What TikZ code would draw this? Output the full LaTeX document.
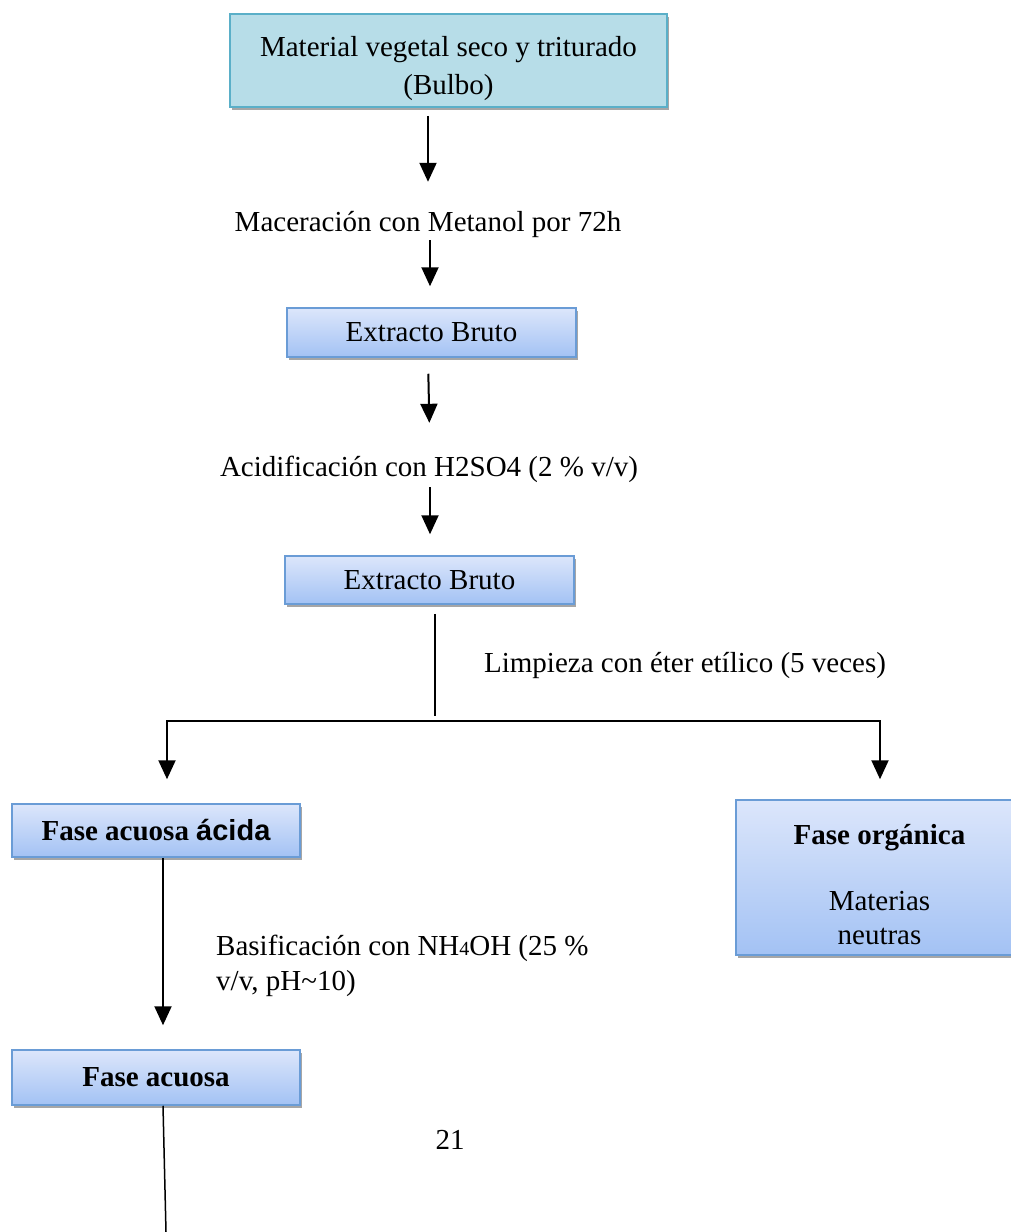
\documentclass[tikz,border=0pt]{standalone}
\usepackage{fontspec}
\setmainfont{Liberation Serif}
\newfontfamily\arialfont{Liberation Sans}
\usetikzlibrary{arrows.meta,shadows,calc}
\definecolor{cyanfill}{HTML}{B7DDE8}
\definecolor{cyanline}{HTML}{5AAFC8}
\definecolor{bluetop}{HTML}{DCE6FB}
\definecolor{bluebot}{HTML}{A3C2F4}
\definecolor{blueline}{HTML}{6A9CD6}
\tikzset{
  x=1pt, y=-1pt,
  big/.style={font=\fontsize{29}{38}\selectfont},
  shad/.style={drop shadow={shadow xshift=2pt,shadow yshift=-3pt,fill=black,opacity=0.35}},
  cyanbox/.style={big, draw=cyanline, line width=1.5pt, fill=cyanfill, shad, align=center, inner sep=0pt},
  bluebox/.style={big, draw=blueline, line width=1.5pt, top color=bluetop, bottom color=bluebot, shad, align=center, inner sep=0pt},
  lbl/.style={big, inner sep=0pt, text height=21pt, text depth=7pt},
  conn/.style={line width=2pt},
  arr/.style={conn, -{Triangle[width=17pt,length=19pt]}},
}
\begin{document}
\begin{tikzpicture}
\useasboundingbox (0,0) rectangle (1010,1232);
% boxes
\node[cyanbox, minimum width=437pt, minimum height=93pt] (top) at (448.5,60.5)
  {\rule{0pt}{36pt}Material vegetal seco y triturado\\(Bulbo)};
\node[lbl] (t1) at (428,224) {Maceración con Metanol por 72h};
\node[bluebox, minimum width=289pt, minimum height=49pt] (b1) at (431.5,332.5) {Extracto Bruto};
\node[lbl] (t2) at (429,469) {Acidificación con H2SO4 (2 \% v/v)};
\node[bluebox, minimum width=289pt, minimum height=48pt] (b2) at (429.5,580) {Extracto Bruto};
\node[lbl] (t3) at (685,665) {Limpieza con éter etílico (5 veces)};
\node[bluebox, minimum width=288pt, minimum height=53pt] (left) at (156,830.5)
  {\bfseries Fase acuosa {\arialfont\bfseries ácida}};
\node[bluebox, minimum width=287pt, minimum height=155pt, font=\fontsize{29}{34}\selectfont] (right) at (879.5,877.5)
  {\rule{0pt}{34pt}\textbf{Fase orgánica}\\[32pt]Materias\\neutras};
\node[big, inner sep=0pt, anchor=west, align=left, font=\fontsize{29}{35}\selectfont] (t4) at (216,965.5)
  {Basificación con NH{\fontsize{20}{20}\selectfont 4}OH (25 \%\\v/v, pH\char`~10)};
\node[bluebox, minimum width=288pt, minimum height=55pt] (bottom) at (156,1077.5) {\bfseries Fase acuosa};
\node[lbl] (pg) at (450,1142) {21};
% coordinates
\coordinate (j) at (435,716);
\coordinate (hl) at (167,721);
\coordinate (hr) at (880,721);
\coordinate (endpt) at (166,1232);
% connectors
\draw[arr, shorten <=8pt, shorten >=28pt] (top.south -| t1) -- (t1.north);
\draw[arr, shorten <=2pt, shorten >=21pt] ([xshift=2pt]t1.south) -- ([xshift=-1.5pt]b1.north);
\draw[arr, shorten <=16pt, shorten >=32pt] ([xshift=-3.5pt]b1.south) -- ([xshift=1pt]t2.north);
\draw[arr, shorten <=4pt, shorten >=21pt] ([xshift=1pt]t2.south) -- ([xshift=0.5pt]b2.north);
\draw[conn, shorten <=9pt] (b2.south -| j) -- (j);
\draw[conn] ([xshift=-1pt]hl) -- ([xshift=1pt]hr);
\draw[arr, shorten >=24pt] (hl) -- (hl |- left.north);
\draw[arr, shorten >=20pt] (hr) -- (hr |- right.north);
\draw[arr, shorten >=24pt] ([xshift=7pt]left.south) -- ([xshift=7pt]bottom.north);
\draw[conn, line width=1.5pt] ([xshift=7pt]bottom.south) -- (endpt);
\end{tikzpicture}
\end{document}
